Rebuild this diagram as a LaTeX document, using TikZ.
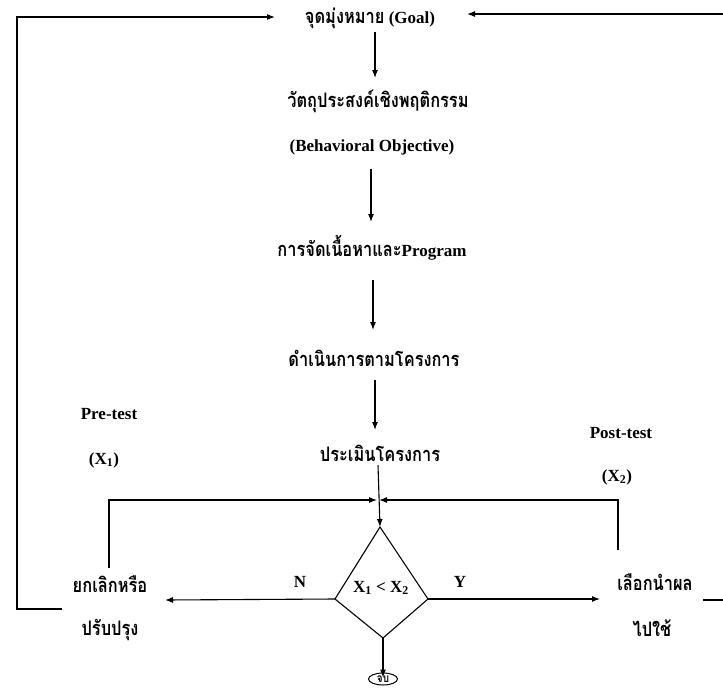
\documentclass[tikz,border=0pt]{standalone}
\usepackage{fontspec}
\setmainfont{Liberation Serif}
\newfontfamily\thai[Script=Thai,FakeStretch=0.82]{Loma}
\usetikzlibrary{arrows.meta,shapes.geometric}
\begin{document}
\begin{tikzpicture}[x=1pt,y=-1pt,line width=1.1pt,
  arr/.style={-{Latex[length=8pt,width=6pt]}},
  lbl/.style={font=\bfseries\fontsize{17}{19}\selectfont,inner sep=0pt,outer sep=0pt},
  thl/.style={lbl,font=\thai\bfseries\fontsize{20}{22}\selectfont}]
\useasboundingbox (0,0) rectangle (723,691);
% nodes
\node[lbl] (goal) at (370,18) {{\thai\fontsize{20}{22}\selectfont จุดมุ่งหมาย} (Goal)};
\node[thl] (obj) at (378,101) {วัตถุประสงค์เชิงพฤติกรรม};
\node[lbl] (beh) at (372,147) {(Behavioral Objective)};
\node[lbl] (prog) at (372,248) {{\thai\fontsize{20}{22}\selectfont การจัดเนื้อหาและ}Program};
\node[thl] (act) at (374,358) {ดำเนินการตามโครงการ};
\node[thl] (eval) at (380,453) {ประเมินโครงการ};
\node[lbl] (pre) at (109,414) {Pre-test};
\node[lbl] (x1) at (104,460) {(X\textsubscript{1})};
\node[lbl] (post) at (621,433) {Post-test};
\node[lbl] (x2) at (617,477) {(X\textsubscript{2})};
\node[thl] (rej1) at (110,584) {ยกเลิกหรือ};
\node[thl] (rej2) at (110,630) {ปรับปรุง};
\node[thl] (use1) at (655,582) {เลือกนำผล};
\node[thl] (use2) at (652,628) {ไปใช้};
\node[lbl] (nlab) at (300,582) {N};
\node[lbl] (ylab) at (460,582) {Y};
\node[lbl] (cmp) at (381,588) {X\textsubscript{1} < X\textsubscript{2}};
\node[ellipse,draw,line width=1pt,inner sep=0pt,minimum width=29pt,minimum height=12pt,font=\thai\bfseries\fontsize{12}{12}\selectfont] (endn) at (383,679) {จบ};
% diamond
\coordinate (dt) at (380,527);
\coordinate (dl) at (335,599);
\coordinate (dr) at (428,599);
\coordinate (db) at (383,638);
\draw (dt) -- (dr) -- (db) -- (dl) -- cycle;
\coordinate (jn) at (378,500);
% flow arrows
\draw[arr] (goal.south -| 375,0) ++(0,4) -- (375,78);
\draw[arr] (beh.south -| 371,0) ++(0,14) -- (371,222);
\draw[arr] (prog.south -| 373,0) ++(0,20) -- (373,330);
\draw[arr] (act.south -| 375,0) ++(0,14) -- (375,430);
\draw[arr] (eval.south -| 378,0) ++(0,4) -- (dt);
\draw[arr] (rej1.north -| 109,0) ++(0,-8) |- ([xshift=-1pt]jn);
\draw[arr] (use1.north -| 618,0) ++(0,-24) |- ([xshift=1pt]jn);
\draw[arr] (dl) -- (165,600);
\draw[arr] (dr) -- (600,599);
\draw[arr] (db) -- ([yshift=-5pt]endn.north);
% feedback loops
\coordinate (lf) at (62,609);
\draw[arr] (lf) -- (17,609) -- (17,17) -- (275,17);
\coordinate (rf) at (703,600);
\draw[arr] (rf) -- (726,600) -- (726,14) -- (467,14);
\end{tikzpicture}
\end{document}
